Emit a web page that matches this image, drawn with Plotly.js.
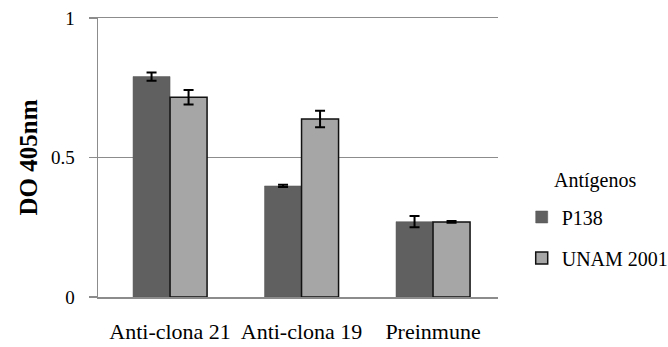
<!DOCTYPE html>
<html>
<head>
<meta charset="utf-8">
<script src="https://cdn.plot.ly/plotly-3.0.1.min.js"></script>
<style>html,body{margin:0;padding:0;background:#fff;}#chart{width:668px;height:347px;}</style>
</head>
<body>
<div id="chart"></div>
<script>
const categories = ["Anti-clona 21", "Anti-clona 19", "Preinmune"];
const p138Values = [0.79, 0.398, 0.27];
const p138Errors = [0.015, 0.004, 0.02];
const unamValues = [0.716, 0.638, 0.269];
const unamErrors = [0.026, 0.03, 0.003];
const seriesNames = ["P138", "UNAM 2001"];
const legendTitle = "Antígenos";
const yTicks = [0, 0.5, 1];
const yTickLabels = ["0", "0.5", "1"];

const font = "Liberation Serif";

const traces = [
  {
    type: "bar", name: seriesNames[0], x: categories, y: p138Values,
    marker: {color: "#606060", line: {color: "#555555", width: 0.5}},
    error_y: {type: "data", array: p138Errors, visible: true, color: "#000", thickness: 2, width: 5},
    legendgroup: "a"
  },
  {
    type: "bar", name: seriesNames[1], x: categories, y: unamValues,
    marker: {color: "#a6a6a6", line: {color: "#111111", width: 1.5}},
    error_y: {type: "data", array: unamErrors, visible: true, color: "#000", thickness: 2, width: 5},
    legendgroup: "b"
  }
];

const layout = {
  width: 668, height: 347,
  margin: {l: 98, r: 170, t: 18, b: 50},
  paper_bgcolor: "#fff", plot_bgcolor: "#fff",
  font: {family: font, size: 20, color: "#000"},
  barmode: "group", bargap: 0.437, bargroupgap: 0,
  xaxis: {
    type: "category", range: [-0.548, 2.494],
    showline: true, mirror: true, linecolor: "#8c8c8c", linewidth: 1.5,
    ticks: "", showgrid: false, ticklabelstandoff: 14,
    tickfont: {family: font, size: 22, color: "#000"}
  },
  yaxis: {
    range: [0, 1], tickvals: yTicks, ticktext: yTickLabels,
    showline: true, linecolor: "#8c8c8c", linewidth: 1.5,
    ticks: "outside", ticklen: 8, tickcolor: "#8c8c8c", tickwidth: 1.5,
    showgrid: true, gridcolor: "#8c8c8c", gridwidth: 1.5, zeroline: false,
    ticklabelstandoff: 10,
    tickfont: {family: font, size: 19, color: "#000"},
    title: {text: "<b>DO 405nm</b>", standoff: 6, font: {family: font, size: 25, color: "#000"}}
  },
  legend: {
    xref: "container", yref: "container", x: 0.781, xanchor: "left", y: 0.3156, yanchor: "middle",
    traceorder: "grouped", tracegroupgap: 12,
    font: {family: font, size: 20, color: "#000"},
    itemwidth: 30
  },
  annotations: [{
    text: legendTitle, xref: "paper", yref: "paper", x: 1.135, y: 0.416,
    xanchor: "left", yanchor: "middle", showarrow: false,
    font: {family: font, size: 20, color: "#000"}
  }],
  showlegend: true
};

Plotly.newPlot("chart", traces, layout, {displayModeBar: false, staticPlot: true});
</script>
</body>
</html>
